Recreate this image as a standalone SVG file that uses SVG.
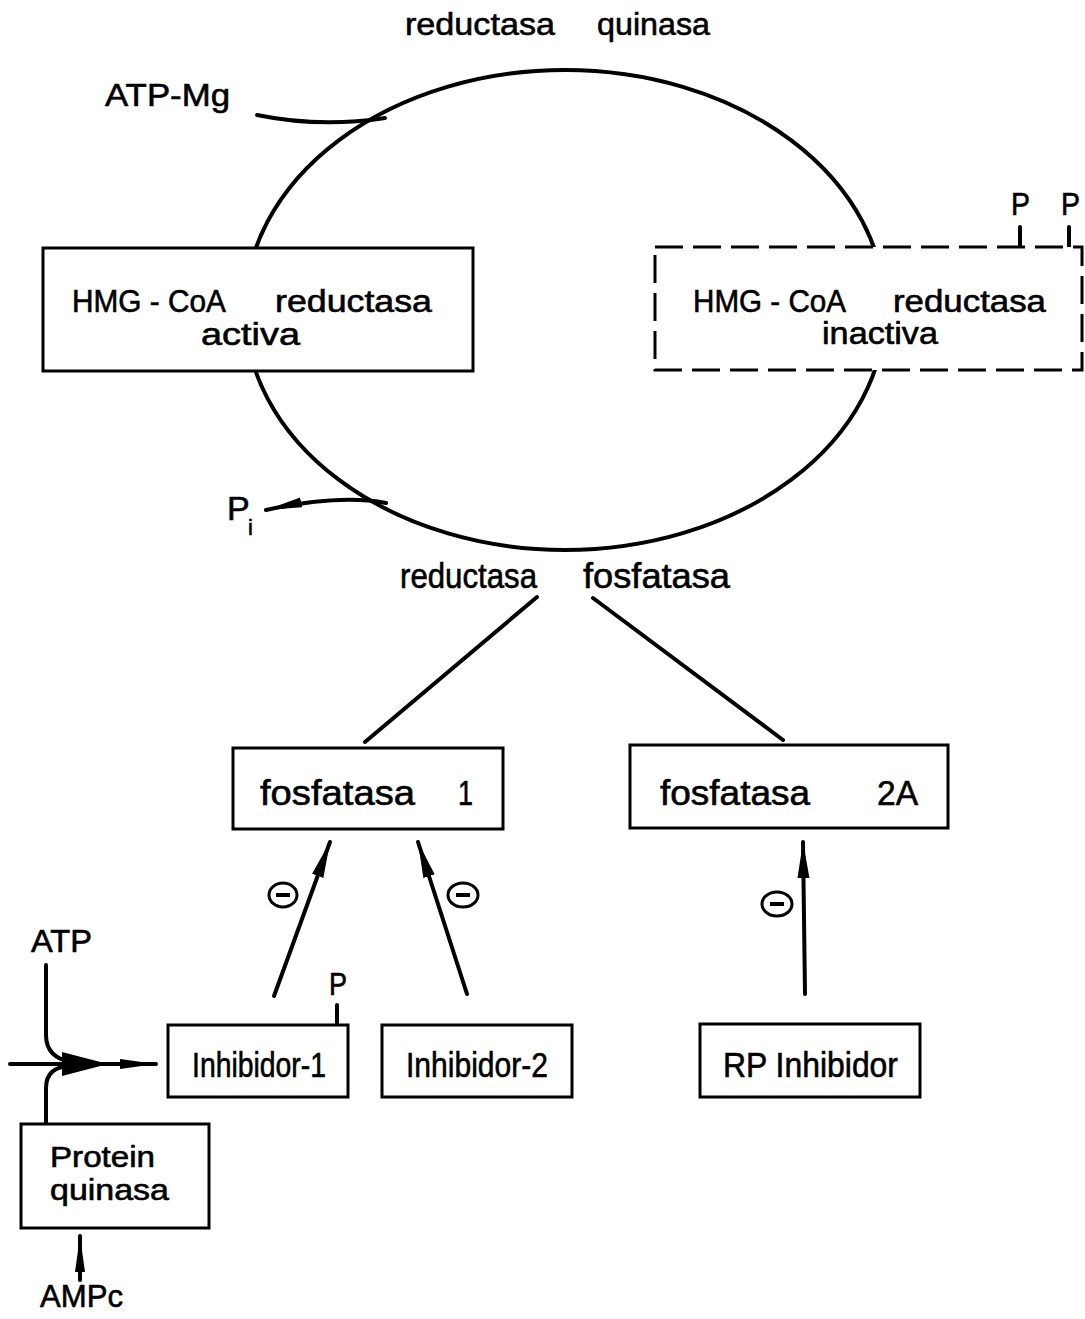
<svg xmlns="http://www.w3.org/2000/svg" width="1085" height="1319" viewBox="0 0 1085 1319">
<style>
text{font-family:"Liberation Sans","DejaVu Sans",sans-serif;font-size:32px;fill:#000;stroke:#000;stroke-width:0.6}
.bx{font-size:35px}
.hm{font-size:31px}
.pq{font-size:29px}
.ln{fill:none;stroke:#000;stroke-width:4;stroke-linecap:round}
.box{fill:#fff;stroke:#000;stroke-width:3}
.dash{fill:#fff;stroke:#000;stroke-width:3;stroke-dasharray:28 10}
</style>
<defs>
<marker id="ah" markerUnits="userSpaceOnUse" markerWidth="40" markerHeight="16" refX="36" refY="8" orient="auto">
<path d="M0,2 L36,8 L0,14 Z" fill="#000"/>
</marker>
<marker id="ahs" markerUnits="userSpaceOnUse" markerWidth="40" markerHeight="14" refX="36" refY="7" orient="auto">
<path d="M0,2 L36,7 L0,12 Z" fill="#000"/>
</marker>
</defs>
<g id="cycle">
<ellipse cx="565" cy="310" rx="320" ry="240" class="ln"/>
</g>
<g id="connectors">
<path class="ln" d="M257,115 Q320,128 385,118"/>
<path class="ln" d="M386,503 Q340,494 266,510" marker-end="url(#ahs)"/>
<path class="ln" d="M537,597 L365,742"/>
<path class="ln" d="M593,598 L783,740"/>
<path class="ln" d="M274,996 L330,842" marker-end="url(#ah)"/>
<path class="ln" d="M467,994 L418,842" marker-end="url(#ah)"/>
<path class="ln" d="M805,994 L803,842" marker-end="url(#ah)"/>
<path class="ln" d="M46,965 L46,1035 Q46,1058 72,1062"/>
<path class="ln" d="M46,1123 L46,1088 Q46,1066 72,1066"/>
<path class="ln" d="M10,1064 L156,1064" marker-end="url(#ahs)"/>
<polygon points="62,1052 108,1064 62,1076" fill="#000"/>
<path class="ln" d="M80,1280 L80,1236" marker-end="url(#ahs)"/>
<path class="ln" d="M337,1005 L337,1025"/>
<path class="ln" d="M1020,227 L1020,247"/>
<path class="ln" d="M1069,227 L1069,247"/>
</g>
<g id="inh-signs">
<ellipse cx="283" cy="895" rx="14" ry="12" fill="none" stroke="#000" stroke-width="3"/>
<line x1="276" y1="895" x2="290" y2="895" stroke="#000" stroke-width="4"/>
<ellipse cx="463" cy="895" rx="15" ry="12" fill="none" stroke="#000" stroke-width="3"/>
<line x1="456" y1="895" x2="470" y2="895" stroke="#000" stroke-width="4"/>
<ellipse cx="777" cy="904" rx="15" ry="12" fill="none" stroke="#000" stroke-width="3"/>
<line x1="770" y1="904" x2="784" y2="904" stroke="#000" stroke-width="4"/>
</g>
<g id="labels">
<text x="405" y="35" textLength="150" lengthAdjust="spacingAndGlyphs">reductasa</text>
<text x="597" y="35" textLength="113" lengthAdjust="spacingAndGlyphs">quinasa</text>
<text x="105" y="106" textLength="125" lengthAdjust="spacingAndGlyphs">ATP-Mg</text>
<text x="227" y="520" style="font-size:34px">P</text>
<text x="248" y="535" style="font-size:22px">i</text>
<text x="400" y="588" class="bx" textLength="137" lengthAdjust="spacingAndGlyphs">reductasa</text>
<text x="583" y="588" class="bx" textLength="147" lengthAdjust="spacingAndGlyphs">fosfatasa</text>
<text x="1011" y="215" textLength="19" lengthAdjust="spacingAndGlyphs">P</text>
<text x="1061" y="215" textLength="19" lengthAdjust="spacingAndGlyphs">P</text>
<text x="329" y="995" textLength="18" lengthAdjust="spacingAndGlyphs">P</text>
<text x="31" y="952" textLength="61" lengthAdjust="spacingAndGlyphs">ATP</text>
<text x="40" y="1307" textLength="83" lengthAdjust="spacingAndGlyphs">AMPc</text>
</g>
<g id="hmg-activa">
<rect class="box" x="43" y="248" width="430" height="123"/>
<text x="72" y="312" class="hm" textLength="154" lengthAdjust="spacingAndGlyphs">HMG - CoA</text>
<text x="275" y="312" class="hm" textLength="157" lengthAdjust="spacingAndGlyphs">reductasa</text>
<text x="201" y="345" class="hm" textLength="99" lengthAdjust="spacingAndGlyphs">activa</text>
</g>
<g id="hmg-inactiva">
<rect class="dash" x="655" y="247" width="427" height="123"/>
<text x="693" y="312" class="hm" textLength="153" lengthAdjust="spacingAndGlyphs">HMG - CoA</text>
<text x="893" y="312" class="hm" textLength="153" lengthAdjust="spacingAndGlyphs">reductasa</text>
<text x="822" y="344" class="hm" textLength="116" lengthAdjust="spacingAndGlyphs">inactiva</text>
</g>
<g id="fosfatasa1">
<rect class="box" x="233" y="748" width="270" height="81"/>
<text x="260" y="805" class="bx" textLength="155" lengthAdjust="spacingAndGlyphs">fosfatasa</text>
<text x="458" y="805" class="bx" textLength="15" lengthAdjust="spacingAndGlyphs">1</text>
</g>
<g id="fosfatasa2A">
<rect class="box" x="630" y="745" width="318" height="83"/>
<text x="660" y="805" class="bx" textLength="150" lengthAdjust="spacingAndGlyphs">fosfatasa</text>
<text x="877" y="805" class="bx" textLength="41" lengthAdjust="spacingAndGlyphs">2A</text>
</g>
<g id="inhibidor1">
<rect class="box" x="168" y="1025" width="180" height="72"/>
<text x="192" y="1077" class="bx" textLength="134" lengthAdjust="spacingAndGlyphs">Inhibidor-1</text>
</g>
<g id="inhibidor2">
<rect class="box" x="382" y="1025" width="190" height="72"/>
<text x="406" y="1077" class="bx" textLength="142" lengthAdjust="spacingAndGlyphs">Inhibidor-2</text>
</g>
<g id="rp-inhibidor">
<rect class="box" x="700" y="1024" width="220" height="73"/>
<text x="723" y="1077" class="bx" textLength="175" lengthAdjust="spacingAndGlyphs">RP Inhibidor</text>
</g>
<g id="protein-quinasa">
<rect class="box" x="21" y="1124" width="188" height="104"/>
<text x="50" y="1167" class="pq" textLength="105" lengthAdjust="spacingAndGlyphs">Protein</text>
<text x="50" y="1200" class="pq" textLength="119" lengthAdjust="spacingAndGlyphs">quinasa</text>
</g>
</svg>
